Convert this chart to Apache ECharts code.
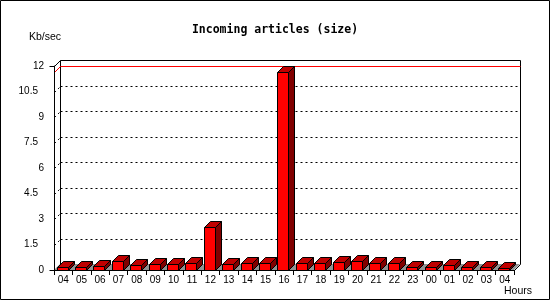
<!DOCTYPE html>
<html><head><meta charset="utf-8">
<script src="https://cdn.jsdelivr.net/npm/echarts@6/dist/echarts.min.js"></script>
<style>html,body{margin:0;padding:0;background:#fff}#c{width:550px;height:300px}</style>
</head><body><div id="c"></div>
<script>
const hours = ['04','05','06','07','08','09','10','11','12','13','14','15','16','17','18','19','20','21','22','23','00','01','02','03','04'];
const sizeKbSec = [0.16,0.16,0.22,0.53,0.30,0.35,0.35,0.40,2.54,0.35,0.41,0.41,11.64,0.40,0.41,0.47,0.53,0.41,0.41,0.20,0.20,0.30,0.16,0.16,0.10];
const yTicks = [0,1.5,3,4.5,6,7.5,9,10.5,12];
const yMin = 0, yMax = 12, yStep = 1.5;
const titleText = 'Incoming articles (size)';
const yUnit = 'Kb/sec';
const xUnit = 'Hours';

const DEPTH = 6, BAR_W = 11, BAR_OFF = 2.5;
const s = v => Math.round(v) + 0.5;
const LBL_FONT = 'Liberation Sans';

const chart = echarts.init(document.getElementById('c'), null, {renderer: 'canvas'});

function frameItem(params, api) {
  const cs = params.coordSys;
  const L = cs.x, R = cs.x + cs.width, d = DEPTH;
  const y0 = api.coord([0, yMin])[1];
  const yT = api.coord([0, yMax])[1];
  const ch = [];
  ch.push({type:'polygon', shape:{points:[[L,y0],[R,y0],[R+d,y0-d],[L+d,y0-d]]}, style:{fill:'#929292', stroke:null}});
  yTicks.forEach(t => {
    if (t <= yMin || t >= yMax) return;
    const y = s(api.coord([0, t])[1]);
    ch.push({type:'line', shape:{x1:s(L+d), y1:y-d, x2:s(R+d), y2:y-d}, style:{stroke:'#000', lineWidth:1, lineDash:[2,3]}});
    ch.push({type:'line', shape:{x1:s(L), y1:y, x2:s(L+d), y2:y-d}, style:{stroke:'#000', lineWidth:1, lineDash:[2,3]}});
  });
  [yMin, yMax].forEach(t => {
    const y = s(api.coord([0, t])[1]);
    ch.push({type:'line', shape:{x1:s(L)-5, y1:y, x2:s(L), y2:y}, style:{stroke:'#000', lineWidth:1}});
  });
  ch.push({type:'polyline', shape:{points:[[s(L+d), s(y0-d)],[s(L+d), s(yT-d)],[s(R+d), s(yT-d)],[s(R+d), s(y0-d)]]}, style:{stroke:'#000', lineWidth:1, fill:null}});
  ch.push({type:'line', shape:{x1:s(L), y1:s(yT), x2:s(L+d), y2:s(yT-d)}, style:{stroke:'#000', lineWidth:1}});
  ch.push({type:'line', shape:{x1:s(R), y1:s(y0), x2:s(R+d), y2:s(y0-d)}, style:{stroke:'#000', lineWidth:1}});
  const ym = s(api.coord([0, Math.max.apply(null, sizeKbSec)])[1]);
  ch.push({type:'polyline', shape:{points:[[s(L), ym],[s(L+d), ym-d],[s(R+d), ym-d]]}, style:{stroke:'#ff0000', lineWidth:1, fill:null}});
  return {type:'group', children: ch};
}

function barItem(params, api) {
  const i = api.value(0), v = api.value(1);
  const base = api.coord([i, 0]);
  const top = api.coord([i, v]);
  const band = api.size([1, 0])[0];
  const d = DEPTH, w = BAR_W;
  const x0 = s(base[0] - band / 2 + BAR_OFF);
  const yb = s(base[1]);
  const yt = s(top[1]);
  return {type:'group', children:[
    {type:'polygon', shape:{points:[[x0+w,yt],[x0+w+d,yt-d],[x0+w+d,yb-d],[x0+w,yb]]}, style:{fill:'#800000', stroke:'#000', lineWidth:1}},
    {type:'polygon', shape:{points:[[x0,yt],[x0+d,yt-d],[x0+w+d,yt-d],[x0+w,yt]]}, style:{fill:'#c00000', stroke:'#000', lineWidth:1}},
    {type:'rect', shape:{x:x0, y:yt, width:w, height:yb-yt}, style:{fill:'#ff0000', stroke:'#000', lineWidth:1}}
  ]};
}

chart.setOption({
  animation: false,
  backgroundColor: '#fff',
  title: {text: titleText, left: 'center', top: 19, textStyle:{fontFamily:'DejaVu Sans Mono', fontWeight:'bold', fontSize:11.5, color:'#000'}},
  grid: {left: 54, right: 36, top: 66, bottom: 30, containLabel: false},
  xAxis: {type:'category', data: hours, boundaryGap: true, z: 5,
    axisLine:{show:true, lineStyle:{color:'#000', width:1}},
    axisTick:{show:true, length:5, inside:false, alignWithLabel:false, lineStyle:{color:'#000'}},
    axisLabel:{interval:0, margin:5, color:'#000', fontFamily:LBL_FONT, fontSize:10},
    splitLine:{show:false}},
  yAxis: {type:'value', min:yMin, max:yMax, interval:yStep, z: 5,
    axisLine:{show:true, lineStyle:{color:'#000', width:1}},
    axisTick:{show:false},
    axisLabel:{margin:10, color:'#000', fontFamily:LBL_FONT, fontSize:10,
      formatter: v => Number.isInteger(v) ? String(v) : v + '{g|}',
      rich:{g:{width:6}}},
    splitLine:{show:false}},
  graphic: [
    {type:'rect', shape:{x:0.5, y:0.5, width:549, height:299}, style:{fill:null, stroke:'#000', lineWidth:1}, z:100},
    {type:'text', left:29, top:32, style:{text:yUnit, fontFamily:LBL_FONT, fontSize:10.5, fill:'#000'}},
    {type:'text', left:504, top:286, style:{text:xUnit, fontFamily:LBL_FONT, fontSize:10.5, fill:'#000'}}
  ],
  series: [
    {type:'custom', name:'frame', z:1, silent:true, data:[[0, 0]], renderItem: frameItem},
    {type:'custom', name:'Incoming', z:3, data: sizeKbSec.map((v, i) => [i, v]), encode:{x:0, y:1}, renderItem: barItem}
  ]
});
</script>
</body></html>
